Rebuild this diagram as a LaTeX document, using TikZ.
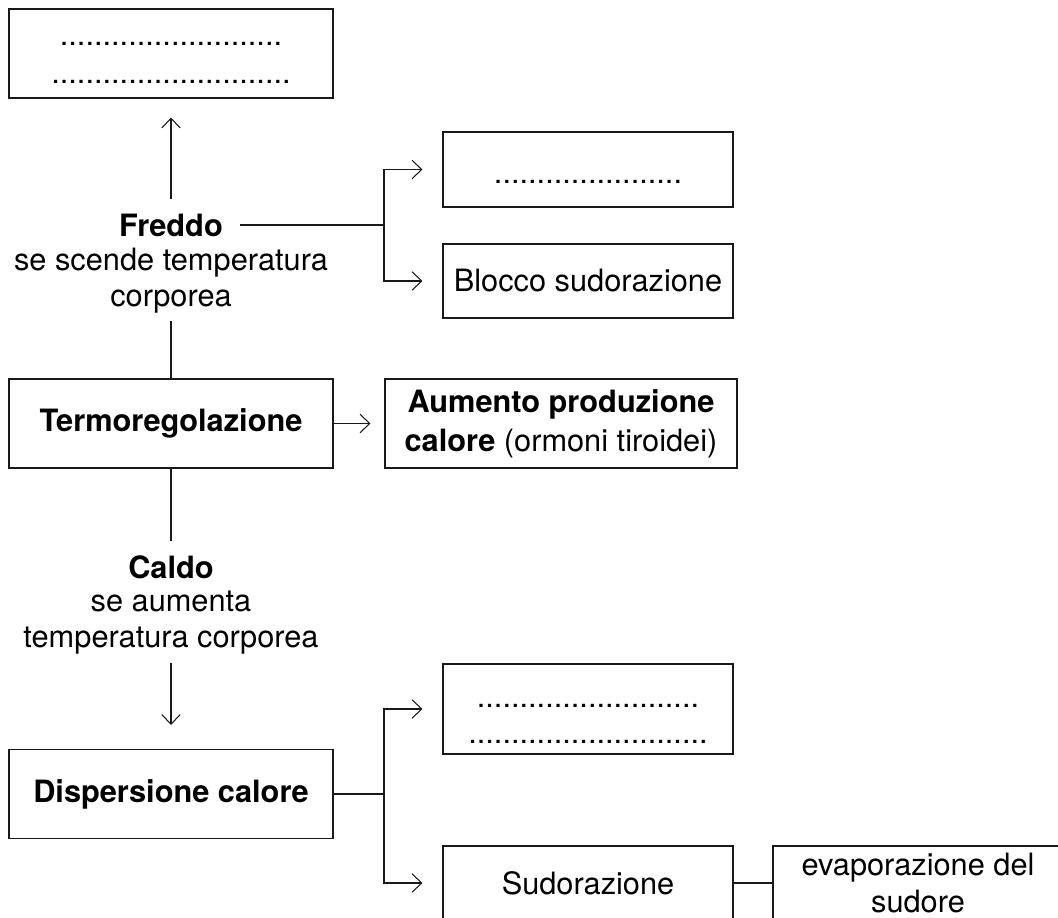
\documentclass[tikz,border=0pt]{standalone}
\usepackage{fontspec}
\setmainfont{TeX Gyre Heros}
\usetikzlibrary{arrows.meta, positioning, calc}
\definecolor{tratto}{RGB}{25, 25, 25}

\tikzset{
    box/.style={draw=tratto, line width=0.6pt, minimum width=5.8cm, minimum height=1.5cm,
        inner sep=0pt, align=center, font=\fontsize{17.5}{20.5}\selectfont},
    boxlargo/.style={box, minimum width=6.48cm, minimum height=1.78cm},
    testo/.style={inner sep=0pt, align=center, font=\fontsize{17.5}{20.5}\selectfont},
    freccia/.style={draw=tratto, line width=0.6pt, -{Straight Barb[length=5.5pt, width=10.5pt]}},
    linea/.style={draw=tratto, line width=0.6pt},
}

\begin{document}
\begin{tikzpicture}
    \useasboundingbox (0,0) rectangle (21.16,-18.36);
    \clip (0,0) rectangle (21.16,-18.36);

    % colonna sinistra
    \node[boxlargo] (vuotoA) at (3.42,-1.07)
        {\rule{0pt}{13pt}..........................\\[1.1pt]............................};
    \node[testo] (freddo) at (3.42,-4.5) {\textbf{Freddo}};
    \node[testo] (freddoinfo) at (3.42,-5.62) {se scende temperatura\\corporea};
    \node[boxlargo] (termo) at (3.42,-8.47) {\textbf{Termoregolazione}};
    \node[testo] (caldo) at (3.42,-11.34) {\textbf{Caldo}};
    \node[testo] (caldoinfo) at (3.42,-12.46) {se aumenta\\temperatura corporea};
    \node[boxlargo] (disp) at (3.42,-15.88) {\textbf{Dispersione calore}};

    % risposte al freddo
    \node[box] (vuotoB) at (11.76,-3.39) {\rule{0pt}{16.4pt}......................};
    \node[box, minimum height=1.48cm] (blocco) at (11.76,-5.62) {Blocco sudorazione};
    \node[box, minimum width=7.04cm, minimum height=1.78cm] (aumento) at (11.22,-8.47)
        {\textbf{Aumento produzione}\\[1.5pt]\textbf{calore} (ormoni tiroidei)};

    % risposte al caldo
    \node[box, minimum height=1.8cm] (vuotoC) at (11.76,-14.18)
        {\rule{0pt}{18.8pt}..........................\\[0.5pt]............................};
    \node[box, minimum height=1.48cm] (sudo) at (11.76,-17.66) {Sudorazione};
    \node[box, minimum height=1.48cm] (evap) at (18.36,-17.66) {evaporazione del\\sudore};

    % punti di diramazione
    \coordinate (nodoF) at (7.68,-4.5);
    \coordinate (nodoD) at (7.68,-15.88);

    % collegamenti
    \draw[freccia, shorten <=0.28cm, shorten >=0.38cm] (freddo) -- (vuotoA);
    \draw[linea, shorten <=0.34cm] (freddo.east) -- (nodoF);
    \draw[freccia, shorten >=0.4cm] (nodoF) |- (vuotoB);
    \draw[freccia, shorten >=0.4cm] (nodoF) |- (blocco);
    \draw[linea, shorten <=0.15cm] (freddoinfo) -- (termo);
    \draw[freccia, shorten >=0.28cm] (termo) -- (aumento);
    \draw[linea, shorten >=0.28cm] (termo) -- (caldo);
    \draw[freccia, shorten <=0.17cm, shorten >=0.48cm] (caldoinfo) -- (disp);
    \draw[linea] (disp) -- (nodoD);
    \draw[freccia, shorten >=0.4cm] (nodoD) |- (vuotoC);
    \draw[freccia, shorten >=0.4cm] (nodoD) |- (sudo);
    \draw[linea] (sudo) -- (evap);
\end{tikzpicture}
\end{document}
